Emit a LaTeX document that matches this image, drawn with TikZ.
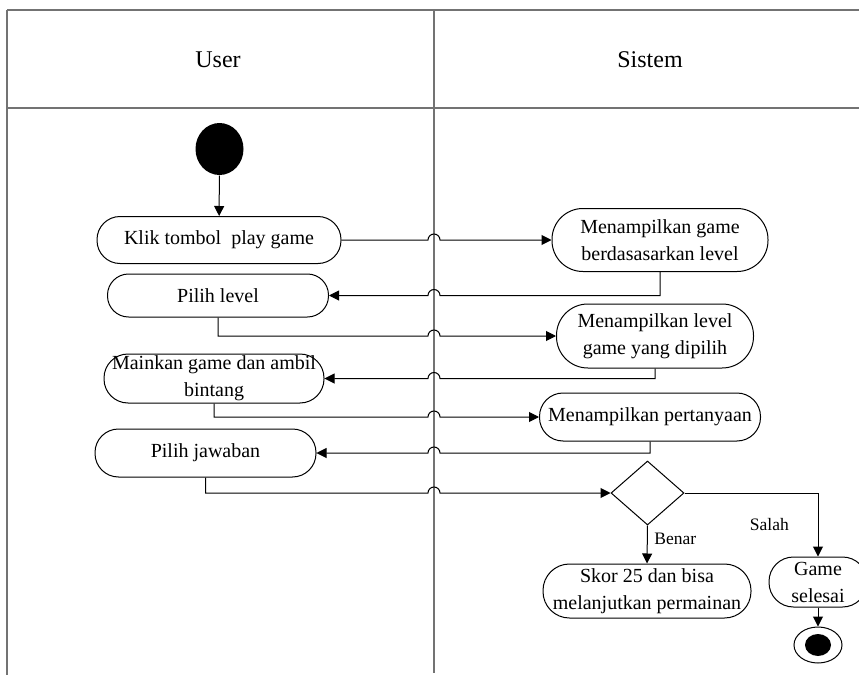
\documentclass[tikz,border=0pt]{standalone}
\usepackage{fontspec}
\setmainfont{Liberation Serif}
\usetikzlibrary{arrows.meta}
\usetikzlibrary{shapes.geometric}
\tikzset{act/.style n args={2}{draw, rectangle, inner sep=0pt, align=center,
  minimum width=#1, minimum height=#2, rounded corners=.49*#2,
  font=\fontsize{10}{13.5}\selectfont}}
\tikzset{l/.style={font=\fontsize{8.75}{9}\selectfont}}
\tikzset{hd/.style={font=\fontsize{12}{12}\selectfont}}
\tikzset{lane/.style={draw=black!55, line width=.75pt}}
\tikzset{hopr/.style={to path={-- ([xshift=-3pt]\tikztotarget -| sep)
  arc[start angle=180, end angle=0, radius=3pt] -- (\tikztotarget) \tikztonodes}}}
\tikzset{hopl/.style={to path={-- ([xshift=3pt]\tikztotarget -| sep)
  arc[start angle=0, end angle=180, radius=3pt] -- (\tikztotarget) \tikztonodes}}}

\begin{document}
\begin{tikzpicture}[x=.5pt, y=-.5pt, line width=.5pt, >={Triangle[length=5pt,width=5pt]}]
    \useasboundingbox (0,0) rectangle (859,675);
    \coordinate (sep) at (434,10);
    \draw[lane] (7,10) -- (859,10);
    \draw[lane] (7,108) -- (859,108);
    \draw[lane] (7,10) -- (7,675);
    \draw[lane] (sep) -- (434,673);
    \node[hd] (user) at (218,60) {User};
    \node[hd] (sistem) at (650,60) {Sistem};

    \node[ellipse, fill, minimum width=24pt, minimum height=26pt, inner sep=0pt] (start) at (219.5,149) {};
    \node[act={122pt}{23.5pt}] (klik) at (219,240) {Klik tombol\ \ play game};
    \node[act={108pt}{31.5pt}] (tgame) at (660,240) {Menampilkan game\\berdasasarkan level};
    \node[act={110.5pt}{21.5pt}] (plevel) at (218,295.5) {Pilih level};
    \node[act={98.5pt}{32pt}] (tlevel) at (655,336) {Menampilkan level\\game yang dipilih};
    \node[act={110pt}{24.5pt}] (main) at (214,378.5) {Mainkan game dan ambil\\bintang};
    \node[act={110.5pt}{24pt}] (tanya) at (650,417) {Menampilkan pertanyaan};
    \node[act={110.5pt}{24pt}] (jawab) at (205.5,453) {Pilih jawaban};
    \node[draw, diamond, minimum width=36.5pt, minimum height=32pt, inner sep=0pt] (dec) at (647.5,493) {};
    \node[act={104pt}{27pt}] (skor) at (647,591) {Skor 25 dan bisa\\melanjutkan permainan};
    \node[act={49pt}{25pt}] (selesai) at (818,582) {Game\\selesai};
    \node[draw, ellipse, minimum width=24pt, minimum height=18pt, inner sep=0pt] (stop) at (818,645) {};
    \node[ellipse, fill, minimum width=13pt, minimum height=11pt, inner sep=0pt] (stopdot) at (stop) {};

    \draw[->] (start) -- (klik);
    \draw[->] (klik.east) to[hopr] (tgame.west);
    \draw[->] (tgame.south) -- (tgame.south |- plevel.east) to[hopl] (plevel.east);
    \draw[->] (plevel.south) -- (plevel.south |- tlevel.west) to[hopr] (tlevel.west);
    \draw[->] (tlevel.south) -- (tlevel.south |- main.east) to[hopl] (main.east);
    \draw[->] (main.south) -- (main.south |- tanya.west) to[hopr] (tanya.west);
    \draw[->] (tanya.south) -- (tanya.south |- jawab.east) to[hopl] (jawab.east);
    \draw[->] (jawab.south) -- (jawab.south |- dec.west) to[hopr] (dec.west);
    \draw[->] (dec.south) -- node[l, right, pos=.35] {Benar} (skor.north);
    \draw[->] (dec.east) -| node[l, left=11pt, pos=.75] {Salah} (selesai.north);
    \draw[->] (selesai.south) -- (stop.north);
\end{tikzpicture}
\end{document}
